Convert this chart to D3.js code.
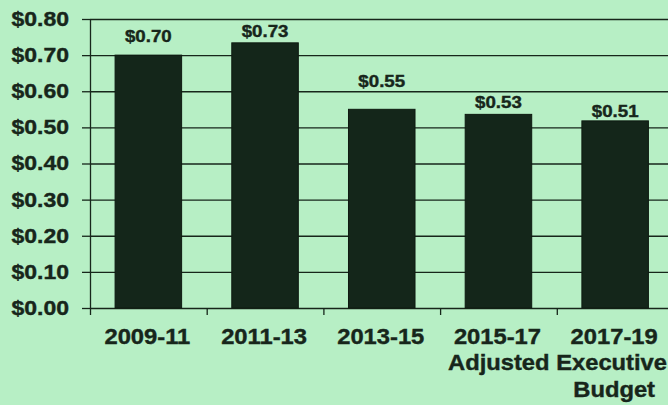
<!DOCTYPE html>
<html>
<head>
<meta charset="utf-8">
<script src="https://cdn.jsdelivr.net/npm/d3@7/dist/d3.min.js"></script>
<style>
  html, body { margin: 0; padding: 0; background: #b7efc5; }
  svg { display: block; }
  text { font-family: "Liberation Sans", Arial, sans-serif; font-weight: bold; fill: #17261b; stroke: #17261b; stroke-width: 0.4px; }
</style>
</head>
<body>
<svg></svg>
<script>
// data
const categories = ['2009-11', '2011-13', '2013-15', '2015-17', '2017-19'];
const rates = [0.70, 0.734, 0.55, 0.536, 0.518];
const rateLabels = ['$0.70', '$0.73', '$0.55', '$0.53', '$0.51'];
const yTicks = [0, 0.1, 0.2, 0.3, 0.4, 0.5, 0.6, 0.7, 0.8];
const lastNote = ['Adjusted Executive', 'Budget'];

const width = 668;
const height = 405;
const ink = '#17261b';

const svg = d3.select('svg')
  .attr('width', width)
  .attr('height', height);

svg.append('rect')
  .attr('width', width)
  .attr('height', height)
  .attr('fill', '#b7efc5');

const y = d3.scaleLinear()
  .domain([0, 0.8])
  .range([308, 19]);

const x = d3.scaleBand()
  .domain(categories)
  .range([90, 673.5])
  .paddingInner(0.43)
  .paddingOuter(0.215);

// gridlines run off the right edge
svg.append('g')
  .attr('class', 'grid')
  .attr('transform', 'translate(90,0)')
  .call(d3.axisRight(y).tickValues(yTicks).tickSize(width).tickFormat(''))
  .call(g => g.select('.domain').remove())
  .call(g => g.selectAll('line').attr('stroke', ink).attr('stroke-width', 1.3));

// y axis with stretched labels
const sx = 1.15;
svg.append('g')
  .attr('transform', 'translate(90,0)')
  .call(d3.axisLeft(y).tickValues(yTicks).tickSize(8).tickSizeOuter(0)
    .tickFormat(d => '$' + d.toFixed(2)))
  .call(g => g.select('.domain').attr('stroke', ink).attr('stroke-width', 1.3))
  .call(g => g.selectAll('line').attr('stroke', ink).attr('stroke-width', 1.3))
  .call(g => g.selectAll('text')
    .attr('font-size', 20)
    .attr('fill', ink)
    .attr('x', -21 / sx)
    .attr('transform', `scale(${sx},1)`));

// x axis ticks sit between the bars
const edges = d3.scaleLinear()
  .domain([0, categories.length])
  .range(x.range());

svg.append('g')
  .attr('transform', `translate(0,${y(0)})`)
  .call(d3.axisBottom(edges).tickValues(d3.range(categories.length + 1)).tickSize(7).tickFormat(''))
  .call(g => g.select('.domain').remove())
  .call(g => g.selectAll('line').attr('stroke', ink).attr('stroke-width', 1.3));

svg.append('g')
  .selectAll('rect')
  .data(rates)
  .join('rect')
  .attr('x', (d, i) => x(categories[i]))
  .attr('y', d => y(d))
  .attr('width', x.bandwidth())
  .attr('height', d => y(0) - y(d))
  .attr('fill', '#14261a')
  .attr('stroke', '#0e1a11')
  .attr('stroke-width', 1);

// value labels (the original puts them at uneven heights)
const lift = [13, 5.5, 22, 6, 4];
const vs = 1.1;
svg.append('g')
  .selectAll('text')
  .data(rates)
  .join('text')
  .attr('transform', (d, i) =>
    `translate(${x(categories[i]) + x.bandwidth() / 2},${y(d) - lift[i]}) scale(${vs},1)`)
  .attr('text-anchor', 'middle')
  .attr('font-size', 17)
  .text((d, i) => rateLabels[i]);

// category labels
const cs = 1.08;
svg.append('g')
  .selectAll('text')
  .data(categories)
  .join('text')
  .attr('transform', d => `translate(${x(d) + x.bandwidth() / 2 - 1},344) scale(${cs},1)`)
  .attr('text-anchor', 'middle')
  .attr('font-size', 22)
  .text(d => d);

const last = categories[categories.length - 1];
svg.append('text')
  .attr('transform', `translate(${width - 1},370) scale(${cs},1)`)
  .attr('text-anchor', 'end')
  .attr('font-size', 22)
  .text(lastNote[0]);

svg.append('text')
  .attr('transform', `translate(${x(last) + x.bandwidth() / 2 - 1},397) scale(${cs},1)`)
  .attr('text-anchor', 'middle')
  .attr('font-size', 22)
  .text(lastNote[1]);
</script>
</body>
</html>
